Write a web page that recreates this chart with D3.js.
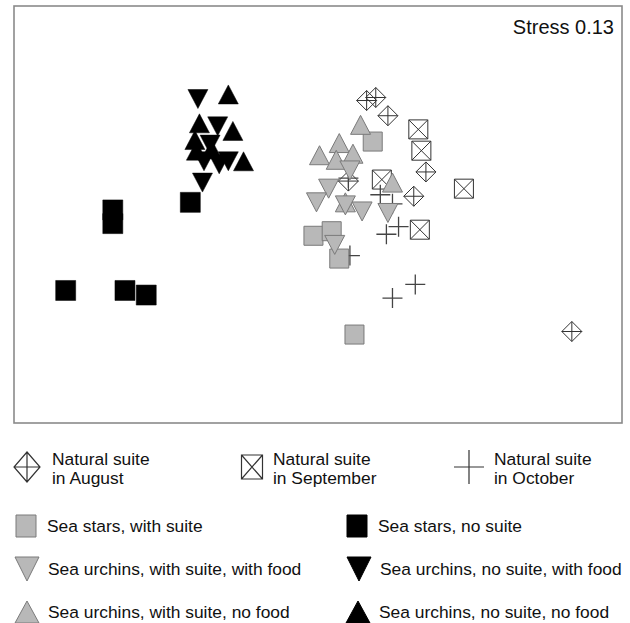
<!DOCTYPE html>
<html>
<head>
<meta charset="utf-8">
<script src="https://cdn.jsdelivr.net/npm/d3@7"></script>
<style>
  body { margin: 0; background: #fff; }
  svg { display: block; font-family: "Liberation Sans", Arial, sans-serif; }
</style>
</head>
<body>
<svg width="630" height="623"></svg>
<script>
// NMDS ordination, x and y in axis units (same scale on both axes)
var natAugust = [[0.32, 0.75], [0.38, 0.77], [0.46, 0.65], [0.71, 0.28], [0.63, 0.12], [0.20, 0.22], [1.67, -0.77]];
var natSeptember = [[0.66, 0.56], [0.68, 0.42], [0.96, 0.17], [0.42, 0.23], [0.67, -0.10]];
var natOctober = [[0.41, 0.13], [0.49, 0.07], [0.45, -0.13], [0.53, -0.08], [0.21, -0.27], [0.49, -0.55], [0.64, -0.46], [0.20, 0.24]];

var starsSuite = [[0.36, 0.48], [-0.03, -0.14], [0.09, -0.11], [0.14, -0.29], [0.24, -0.79]];
var starsNoSuite = [[-1.35, 0.03], [-1.35, -0.06], [-1.66, -0.50], [-1.27, -0.50], [-1.13, -0.53], [-0.84, 0.08]];

var urchinsSuiteFood = [[0.21, 0.29], [0.07, 0.17], [-0.01, 0.08], [0.18, 0.06], [0.29, 0.02], [0.46, 0.01], [0.11, -0.20]];
var urchinsSuiteNoFood = [[0.28, 0.59], [0.14, 0.47], [0.01, 0.39], [0.23, 0.40], [0.12, 0.36], [0.49, 0.21], [0.18, 0.08]];
var urchinsNoSuiteFood = [[-0.79, 0.76], [-0.66, 0.58], [-0.75, 0.35], [-0.65, 0.33], [-0.59, 0.35], [-0.76, 0.21], [-0.71, 0.46]];
var urchinsNoSuiteNoFood = [[-0.59, 0.79], [-0.78, 0.60], [-0.56, 0.55], [-0.81, 0.49], [-0.80, 0.42], [-0.70, 0.43], [-0.49, 0.35]];

var stressLabel = "Stress 0.13";

var svg = d3.select("svg"),
    margin = {top: 6, left: 14},
    width = 608,
    height = 417;

var x = d3.scaleLinear().domain([-2, 2]).range([0, width]),
    y = d3.scaleLinear().domain([-1.372, 1.372]).range([height, 0]);

// marker shapes, all centred on 0,0
function shape(kind, w, h) {
  var a = w / 2, b = h / 2;
  if (kind == "square") return "M" + (-a) + "," + (-b) + "H" + a + "V" + b + "H" + (-a) + "Z";
  if (kind == "up") return "M0," + (-b) + "L" + a + "," + b + "L" + (-a) + "," + b + "Z";
  if (kind == "down") return "M0," + b + "L" + a + "," + (-b) + "L" + (-a) + "," + (-b) + "Z";
  if (kind == "diamond") return "M0," + (-b) + "L" + a + ",0L0," + b + "L" + (-a) + ",0Z" +
    "M" + (-a) + ",0H" + a + "M0," + (-b) + "V" + b;
  if (kind == "box") return "M" + (-a) + "," + (-b) + "H" + a + "V" + b + "H" + (-a) + "Z" +
    "M" + (-a) + "," + (-b) + "L" + a + "," + b + "M" + a + "," + (-b) + "L" + (-a) + "," + b;
  if (kind == "cross") return "M" + (-a) + ",0H" + a + "M0," + (-b) + "V" + b;
}

var styles = {
  august:   {kind: "diamond", w: 20, h: 20, fill: "none", stroke: "#333", sw: 1},
  sept:     {kind: "box", w: 19, h: 19, fill: "none", stroke: "#333", sw: 1},
  oct:      {kind: "cross", w: 20, h: 20, fill: "none", stroke: "#444", sw: 1.3},
  grayBox:  {kind: "square", w: 19, h: 19, fill: "#b8b8b8", stroke: "#7a7a7a", sw: 1},
  blackBox: {kind: "square", w: 20, h: 20, fill: "#000", stroke: "#000", sw: 0.5},
  grayDown: {kind: "down", w: 20, h: 19, fill: "#b8b8b8", stroke: "#7a7a7a", sw: 1},
  grayUp:   {kind: "up", w: 20, h: 19, fill: "#b8b8b8", stroke: "#7a7a7a", sw: 1},
  blackDown:{kind: "down", w: 20, h: 19, fill: "#000", stroke: "#000", sw: 0.5},
  blackUp:  {kind: "up", w: 20, h: 19, fill: "#000", stroke: "#000", sw: 0.5}
};

var g = svg.append("g")
    .attr("transform", "translate(" + margin.left + "," + margin.top + ")");

// frame
g.append("rect")
    .attr("width", width)
    .attr("height", height)
    .attr("fill", "none")
    .attr("stroke", "#8a8a8a")
    .attr("stroke-width", 1.6);

g.append("text")
    .attr("x", width - 8)
    .attr("y", 28)
    .attr("text-anchor", "end")
    .attr("font-size", 20)
    .attr("fill", "#111")
    .text(stressLabel);

// draw order: open symbols, squares, then triangles
var layers = [
  [natAugust, styles.august], [natSeptember, styles.sept], [natOctober, styles.oct],
  [starsNoSuite, styles.blackBox], [starsSuite, styles.grayBox],
  [urchinsNoSuiteNoFood, styles.blackUp], [urchinsNoSuiteFood, styles.blackDown],
  [urchinsSuiteNoFood, styles.grayUp], [urchinsSuiteFood, styles.grayDown]
];

layers.forEach(function(l) {
  var s = l[1];
  g.append("g").selectAll("path")
    .data(l[0])
    .enter().append("path")
      .attr("transform", function(d) { return "translate(" + x(d[0]) + "," + y(d[1]) + ")"; })
      .attr("d", shape(s.kind, s.w, s.h))
      .attr("fill", s.fill)
      .attr("stroke", s.stroke)
      .attr("stroke-width", s.sw);
});

// legend
var legendTop = [
  {cx: 27, tx: 52, style: styles.august, w: 26, h: 30, lines: ["Natural suite", "in August"]},
  {cx: 252, tx: 273, style: styles.sept, w: 21, h: 24, lines: ["Natural suite", "in September"]},
  {cx: 469, tx: 494, style: styles.oct, w: 30, h: 34, lines: ["Natural suite", "in October"]}
];

var lt = svg.append("g").selectAll("g")
    .data(legendTop)
    .enter().append("g");

lt.append("path")
    .attr("transform", function(d) { return "translate(" + d.cx + ",467)"; })
    .attr("d", function(d) { return shape(d.style.kind, d.w, d.h); })
    .attr("fill", "none")
    .attr("stroke", "#333")
    .attr("stroke-width", 1.2);

lt.append("text")
    .attr("x", function(d) { return d.tx; })
    .attr("y", 465)
    .attr("font-size", 17.4)
    .attr("fill", "#111")
    .text(function(d) { return d.lines[0]; });

lt.append("text")
    .attr("x", function(d) { return d.tx; })
    .attr("y", 484)
    .attr("font-size", 17.4)
    .attr("fill", "#111")
    .text(function(d) { return d.lines[1]; });

var legendRows = [
  {cx: 26, cy: 526, style: styles.grayBox, w: 20, h: 22, label: "Sea stars, with suite"},
  {cx: 357, cy: 526, style: styles.blackBox, w: 20, h: 22, label: "Sea stars, no suite"},
  {cx: 27, cy: 569, style: styles.grayDown, w: 24, h: 24, label: "Sea urchins, with suite, with food"},
  {cx: 359, cy: 569, style: styles.blackDown, w: 24, h: 24, label: "Sea urchins, no suite, with food"},
  {cx: 27, cy: 612, style: styles.grayUp, w: 24, h: 22, label: "Sea urchins, with suite, no food"},
  {cx: 358, cy: 612, style: styles.blackUp, w: 24, h: 22, label: "Sea urchins, no suite, no food"}
];

var lr = svg.append("g").selectAll("g")
    .data(legendRows)
    .enter().append("g");

lr.append("path")
    .attr("transform", function(d) { return "translate(" + d.cx + "," + d.cy + ")"; })
    .attr("d", function(d) { return shape(d.style.kind, d.w, d.h); })
    .attr("fill", function(d) { return d.style.fill; })
    .attr("stroke", function(d) { return d.style.stroke; })
    .attr("stroke-width", 1);

lr.append("text")
    .attr("x", function(d) { return d.cx + 21; })
    .attr("y", function(d) { return d.cy + 6; })
    .attr("font-size", 17.4)
    .attr("fill", "#111")
    .text(function(d) { return d.label; });
</script>
</body>
</html>
